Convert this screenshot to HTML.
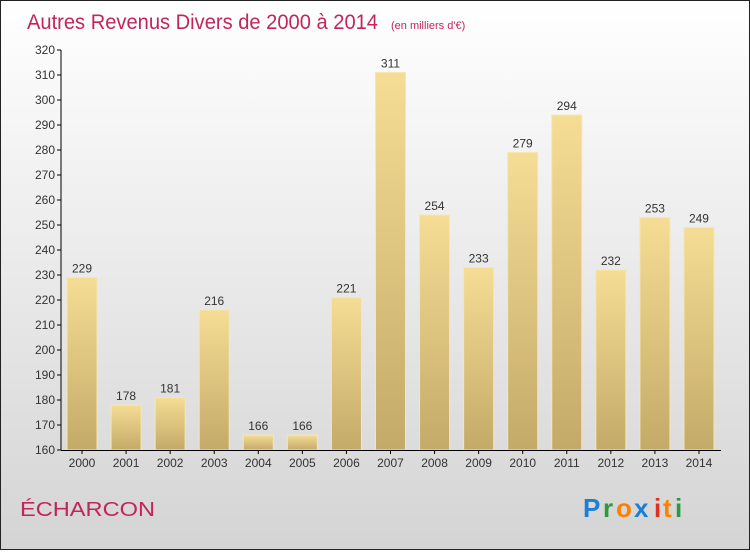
<!DOCTYPE html>
<html><head><meta charset="utf-8"><style>
body{margin:0;width:750px;height:550px;overflow:hidden;font-family:"Liberation Sans",sans-serif}
</style></head><body>
<svg id="c" width="750" height="550">
<defs>
<linearGradient id="bg" x1="0" y1="0" x2="0" y2="1"><stop offset="0" stop-color="#ffffff"/><stop offset="1" stop-color="#d4d4d4"/></linearGradient>
<linearGradient id="bar" x1="0" y1="0" x2="0" y2="1"><stop offset="0" stop-color="#f5dd95"/><stop offset="1" stop-color="#c4aa68"/></linearGradient>
</defs>
<rect x="0.5" y="0.5" width="749" height="549" fill="url(#bg)" stroke="#222"/>
<text x="27" y="29" font-size="21" fill="#c2255c" textLength="351" lengthAdjust="spacingAndGlyphs">Autres Revenus Divers de 2000 à 2014</text>
<text x="391" y="29" font-size="11" fill="#c2255c">(en milliers d'€)</text>
<text x="20" y="516" font-size="20" fill="#c2255c" textLength="135" lengthAdjust="spacingAndGlyphs">ÉCHARCON</text>
<g font-size="26" font-weight="bold">
<text x="583" y="517" fill="#1a7fd6">P</text><text x="603" y="517" fill="#2a9a3a">r</text><text x="616" y="517" fill="#ff7f00">o</text><text x="634" y="517" fill="#1a7fd6">x</text><text x="654" y="517" fill="#e0301e">i</text><text x="663" y="517" fill="#ff7f00">t</text><text x="675" y="517" fill="#2a9a3a">i</text>
</g>
<g id="plot"></g>
</svg>
<script>
const years=["2000","2001","2002","2003","2004","2005","2006","2007","2008","2009","2010","2011","2012","2013","2014"];
const values=[229,178,181,216,166,166,221,311,254,233,279,294,232,253,249];
const ticks=[160,170,180,190,200,210,220,230,240,250,260,270,280,290,300,310,320];
const ns="http://www.w3.org/2000/svg",g=document.getElementById("plot");
const y=v=>450-(v-160)*2.5, x=i=>82+i*44.07;
function mk(t,a,txt){const e=document.createElementNS(ns,t);for(const k in a)e.setAttribute(k,a[k]);if(txt!==undefined)e.textContent=txt;g.appendChild(e);return e;}
ticks.forEach(t=>{
 let l=mk("line",{x1:57,x2:61,y1:y(t),y2:y(t),stroke:"#000"});
 
 
 let tx=mk("text",{x:55,y:y(t)+4,"font-size":12,"text-anchor":"end",fill:"#333"},t);
 
 
});
values.forEach((v,i)=>{
 let r=mk("rect",{x:x(i)-15,y:y(v),width:30,height:450-y(v),fill:"url(#bar)",stroke:"#f7e6b0","stroke-width":1});
 
 
 let t=mk("text",{x:x(i),y:y(v)-5,"font-size":12,"text-anchor":"middle",fill:"#333"},v);
 
 
 let tk=mk("line",{x1:x(i),x2:x(i),y1:450,y2:454,stroke:"#000"});
 
 
 let xl=mk("text",{x:x(i),y:467,"font-size":12,"text-anchor":"middle",fill:"#333"},years[i]);
 
 
});
let ya=mk("line",{x1:61,x2:61,y1:50,y2:450,stroke:"#000"});


let xa=mk("line",{x1:61,x2:721,y1:450.5,y2:450.5,stroke:"#000"});


</script>
</body></html>
